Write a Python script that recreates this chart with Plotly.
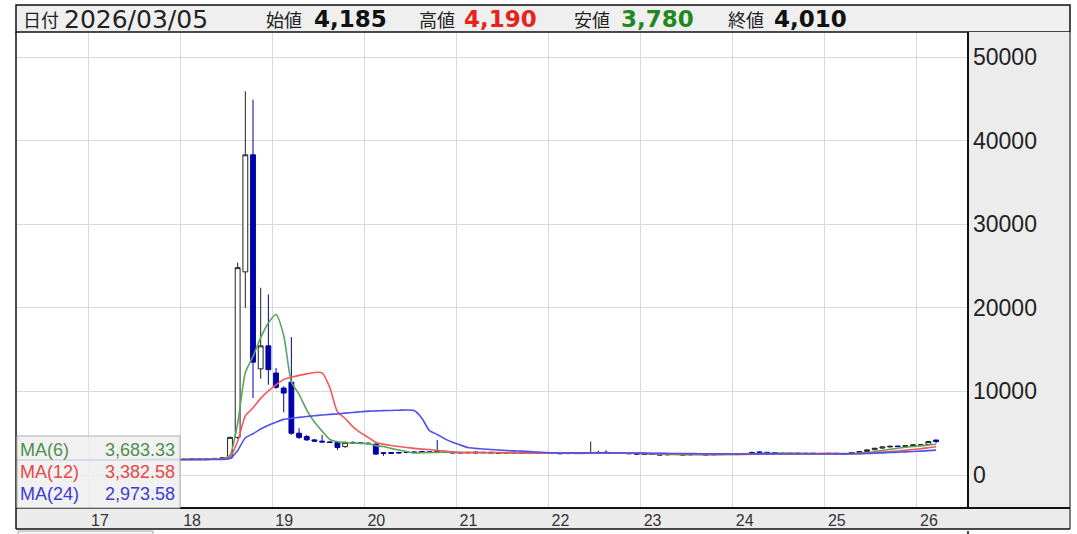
import plotly.graph_objects as go
import pandas as pd

# ---------------- data (monthly candles, 2016-03 .. 2026-03) ----------------
month_labels = [str(p) for p in pd.period_range("2016-03", "2026-03", freq="M")]

opens = [
    # 2016 (Mar-Dec)
    1780, 1800, 1790, 1810, 1800, 1820, 1810, 1790, 1800, 1810,
    # 2017
    1820, 1830, 1810, 1840, 1850, 1830, 1860, 1850, 1870, 1860, 1880, 1870,
    # 2018
    1860, 1880, 1900, 1890, 1920, 1980, 2040, 4500, 24300, 38300, 12700, 15450,
    # 2019
    12200, 10400, 11100, 5000, 4600, 4200, 4050, 3950, 3900, 3400, 3900, 3850,
    # 2020
    3800, 3700, 2650, 2680, 2700, 2750, 2760, 2800, 2780, 2800, 2760, 2720,
    # 2021
    2720, 2640, 2740, 2660, 2720, 2680, 2620, 2710, 2680, 2620, 2680, 2660,
    # 2022
    2660, 2620, 2560, 2660, 2650, 2610, 2660, 2720, 2680, 2650, 2620, 2580,
    # 2023
    2520, 2500, 2480, 2420, 2500, 2480, 2420, 2500, 2480, 2420, 2470, 2560,
    # 2024
    2540, 2500, 2560, 2760, 2720, 2680, 2600, 2610, 2620, 2600, 2610, 2590,
    # 2025
    2600, 2590, 2570, 2520, 2720, 2820, 3020, 3220, 3360, 3460, 3420, 3520,
    # 2026
    3600, 3650, 4185,
]
highs = [
    1840, 1850, 1840, 1860, 1860, 1870, 1850, 1840, 1850, 1870,
    1880, 1880, 1870, 1900, 1900, 1890, 1910, 1910, 1920, 1920, 1930, 1920,
    1920, 1940, 1960, 1950, 2000, 2080, 4600, 25400, 45900, 44900, 22400, 21600,
    12800, 10600, 16500, 5600, 4800, 4300, 4800, 4050, 3950, 4000, 4000, 3900,
    3900, 3750, 2700, 2700, 2750, 2800, 2800, 2850, 2850, 4200, 2800, 2750,
    2750, 2750, 2800, 2750, 2750, 2700, 2700, 2750, 2700, 2700, 2700, 2700,
    2700, 2650, 2650, 2700, 2700, 4000, 2900, 2950, 2700, 2650, 2650, 2600,
    2550, 2500, 2500, 2500, 2500, 2500, 2500, 2500, 2500, 2500, 2550, 2600,
    2550, 2600, 2800, 2800, 2750, 2700, 2650, 2650, 2650, 2650, 2650, 2600,
    2600, 2600, 2600, 2750, 2850, 3050, 3250, 3400, 3500, 3500, 3550, 3650,
    3700, 4050, 4190,
]
lows = [
    1740, 1760, 1750, 1770, 1760, 1780, 1760, 1750, 1760, 1770,
    1780, 1790, 1770, 1800, 1800, 1790, 1820, 1810, 1830, 1820, 1840, 1830,
    1820, 1840, 1860, 1850, 1880, 1940, 1980, 4300, 20000, 9200, 11500, 10800,
    10300, 7500, 4800, 4300, 4100, 3950, 3900, 3850, 3000, 3250, 3750, 3700,
    3650, 2400, 2300, 2500, 2550, 2600, 2600, 2650, 2650, 2650, 2650, 2600,
    2600, 2600, 2600, 2600, 2600, 2550, 2550, 2600, 2550, 2550, 2550, 2550,
    2500, 2500, 2500, 2550, 2550, 2550, 2600, 2600, 2550, 2550, 2500, 2450,
    2400, 2400, 2350, 2350, 2400, 2350, 2350, 2400, 2350, 2350, 2400, 2450,
    2450, 2450, 2500, 2600, 2600, 2500, 2500, 2500, 2500, 2500, 2500, 2500,
    2500, 2480, 2450, 2480, 2650, 2750, 2950, 3150, 3300, 3350, 3380, 3450,
    3500, 3600, 3780,
]
closes = [
    1800, 1790, 1810, 1800, 1820, 1810, 1790, 1800, 1810, 1820,
    1830, 1810, 1840, 1850, 1830, 1860, 1850, 1870, 1860, 1880, 1870, 1860,
    1880, 1900, 1890, 1920, 1980, 2040, 4500, 24800, 38300, 13500, 15450, 12600,
    10500, 9800, 5000, 4500, 4200, 4050, 3950, 3900, 3300, 3900, 3850, 3800,
    3750, 2500, 2600, 2600, 2650, 2700, 2700, 2750, 2700, 2750, 2700, 2650,
    2650, 2700, 2650, 2700, 2650, 2600, 2650, 2650, 2600, 2650, 2600, 2600,
    2600, 2550, 2600, 2600, 2600, 2650, 2700, 2650, 2600, 2600, 2550, 2500,
    2450, 2450, 2400, 2450, 2450, 2400, 2450, 2450, 2400, 2450, 2500, 2500,
    2500, 2550, 2700, 2700, 2650, 2550, 2550, 2550, 2550, 2550, 2550, 2550,
    2550, 2525, 2500, 2700, 2800, 3000, 3200, 3350, 3430, 3400, 3500, 3600,
    3600, 4000, 4010,
]

year_ticks = [2017, 2018, 2019, 2020, 2021, 2022, 2023, 2024, 2025, 2026]
year_labels = ["17", "18", "19", "20", "21", "22", "23", "24", "25", "26"]
price_ticks = [0, 10000, 20000, 30000, 40000, 50000]

header_date = "2026/03/05"
header_vals = {"始値": "4,185", "高値": "4,190", "安値": "3,780", "終値": "4,010"}
ma_periods = [6, 12, 24]
ma_last_text = ["3,683.33", "3,382.58", "2,973.58"]

# ---------------- derived ----------------
periods = pd.PeriodIndex(month_labels, freq="M")
x = [p.year + (p.month - 0.5) / 12 for p in periods]
s = pd.Series(closes, dtype=float)
mas = [s.rolling(n, min_periods=1).mean().tolist() for n in ma_periods]

# ---------------- layout helpers (page pixel coords) ----------------
FIG_W, FIG_H = 1077, 534
PL, PR, PT, PB = 16, 968, 33, 508
W, H = PR - PL, PB - PT


def xp(px):
    return (px - PL) / W


def yp(py):
    return (PB - py) / H


fig = go.Figure()

fig.add_trace(go.Candlestick(
    x=x, open=opens, high=highs, low=lows, close=closes,
    increasing=dict(line=dict(color="#222222", width=1), fillcolor="#ffffff"),
    decreasing=dict(line=dict(color="#0000a8", width=1), fillcolor="#0000a8"),
    whiskerwidth=0, showlegend=False, hoverinfo="skip",
))

ma_line_colors = ["rgb(90,165,90)", "rgb(242,90,90)", "rgb(80,80,235)"]
ma_text_colors = ["#4f8f4f", "#e54848", "#3b3bd6"]
for vals, col in zip(mas, ma_line_colors):
    fig.add_trace(go.Scatter(
        x=x, y=vals, mode="lines",
        line=dict(color=col, width=1.6, shape="spline", smoothing=0.6),
        showlegend=False, hoverinfo="skip",
    ))

shapes = []
shapes.append(dict(type="rect", xref="paper", yref="paper", layer="below",
                   x0=xp(16), x1=xp(1070), y0=yp(32), y1=yp(5),
                   fillcolor="#efefef", line=dict(color="#111", width=1.5)))
shapes.append(dict(type="rect", xref="paper", yref="paper", layer="below",
                   x0=1, x1=xp(1070), y0=0, y1=yp(32),
                   fillcolor="#ececec", line=dict(width=0)))
shapes.append(dict(type="rect", xref="paper", yref="paper", layer="below",
                   x0=0, x1=xp(1070), y0=yp(529), y1=0,
                   fillcolor="#ebebeb", line=dict(width=0)))
line_defs = [
    (0, yp(529), 0, yp(32), "#111", 1.5),
    (1, 0, 1, yp(32), "#111", 2),
    (xp(1070), yp(529), xp(1070), yp(32), "#555", 1.5),
    (0, 0, xp(1070), 0, "#111", 2),
    (0, yp(529), xp(1070), yp(529), "#111", 1.5),
    (1, yp(531), 1, yp(545), "#111", 1.5),
]
for x0, y0, x1, y1, c, w in line_defs:
    shapes.append(dict(type="line", xref="paper", yref="paper", layer="above",
                       x0=x0, y0=y0, x1=x1, y1=y1, line=dict(color=c, width=w)))
shapes.append(dict(type="rect", xref="paper", yref="paper", layer="above",
                   x0=xp(18), x1=xp(153), y0=yp(545), y1=yp(531),
                   fillcolor="#f2f2f2", line=dict(color="#aaa", width=1)))
shapes.append(dict(type="rect", xref="paper", yref="paper", layer="above",
                   x0=xp(17), x1=xp(180), y0=0, y1=yp(436),
                   fillcolor="rgba(238,238,238,0.85)", line=dict(color="#b0b0b0", width=1)))

ann = []
jp = "Noto Sans CJK JP"
num = "DejaVu Sans"
hy = yp(19)


def add_text(px, text, size, color, family, anchor="left", py=None, bold=False):
    t = f"<b>{text}</b>" if bold else text
    ann.append(dict(xref="paper", yref="paper", x=xp(px), y=hy if py is None else yp(py),
                    text=t, showarrow=False, xanchor=anchor, yanchor="middle",
                    font=dict(size=size, color=color, family=family)))


add_text(21, "日付", 18, "#222", jp)
add_text(62, header_date, 25, "#222", num)
val_colors = {"始値": "#111", "高値": "#e8231b", "安値": "#1e8a1e", "終値": "#111"}
label_x = {"始値": 264, "高値": 417, "安値": 572, "終値": 726}
value_x = {"始値": 312, "高値": 462, "安値": 619, "終値": 772}
for k, v in header_vals.items():
    add_text(label_x[k], k, 18, "#222", jp)
    add_text(value_x[k], v, 23, val_colors[k], num, bold=True)

for i, (n, txt) in enumerate(zip(ma_periods, ma_last_text)):
    py = 450 + 22 * i
    add_text(18, f"MA({n})", 18, ma_text_colors[i], "Liberation Sans", py=py)
    add_text(177, txt, 18, ma_text_colors[i], "Liberation Sans", anchor="right", py=py)

px_per_unit = 83.6 / 10000
y_top = (475 - PT) / px_per_unit
y_bot = (475 - PB) / px_per_unit
x_left = 2017 - (88 - PL) / 92.1
x_right = 2017 + (PR - 88) / 92.1

fig.update_layout(
    width=FIG_W, height=FIG_H, autosize=False,
    margin=dict(l=PL, r=FIG_W - PR, t=PT, b=FIG_H - PB, pad=0, autoexpand=False),
    paper_bgcolor="#ffffff", plot_bgcolor="#ffffff",
    boxgap=0.1,
    shapes=shapes, annotations=ann,
    showlegend=False,
    xaxis=dict(
        range=[x_left, x_right], tickmode="array", tickvals=year_ticks, ticktext=year_labels,
        showgrid=True, gridcolor="#d9d9d9", gridwidth=1, zeroline=False,
        ticks="", showline=False, rangeslider=dict(visible=False), automargin=False,
        tickfont=dict(size=16, color="#333", family="Liberation Sans"),
        ticklabelshift=12, ticklabelstandoff=1, fixedrange=True,
    ),
    yaxis=dict(
        range=[y_bot, y_top], side="right", tickmode="array", tickvals=price_ticks,
        ticktext=[str(v) for v in price_ticks], automargin=False,
        showgrid=True, gridcolor="#d9d9d9", gridwidth=1, zeroline=False,
        ticks="", showline=False, ticklabelstandoff=4,
        tickfont=dict(size=23, color="#222", family="Liberation Sans"), fixedrange=True,
    ),
)

fig.write_html(
    "out.html",
    config={"displayModeBar": False, "staticPlot": True},
    post_script="document.body.style.margin='0';document.body.style.overflow='hidden';",
)
